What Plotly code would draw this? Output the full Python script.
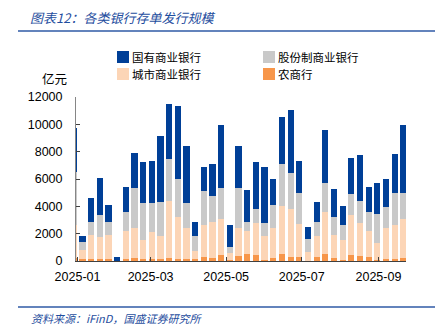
import plotly.graph_objects as go

# Weekly issuance dates (week ending Sunday)
weeks = [
    "2024-12-29", "2025-01-05", "2025-01-12", "2025-01-19", "2025-01-26",
    "2025-02-02", "2025-02-09", "2025-02-16", "2025-02-23", "2025-03-02",
    "2025-03-09", "2025-03-16", "2025-03-23", "2025-03-30", "2025-04-06",
    "2025-04-13", "2025-04-20", "2025-04-27", "2025-05-04", "2025-05-11",
    "2025-05-18", "2025-05-25", "2025-06-01", "2025-06-08", "2025-06-15",
    "2025-06-22", "2025-06-29", "2025-07-06", "2025-07-13", "2025-07-20",
    "2025-07-27", "2025-08-03", "2025-08-10", "2025-08-17", "2025-08-24",
    "2025-08-31", "2025-09-07", "2025-09-14", "2025-09-21",
]

# Issuance by bank type, 亿元
rural = [200, 120, 170, 170, 170, 0, 170, 220, 120, 170,
         170, 250, 170, 170, 120, 320, 250, 460, 50, 370,
         540, 460, 70, 250, 510, 320, 320, 30, 320, 510,
         250, 100, 440, 340, 320, 100, 170, 170, 250]
city = [2400, 690, 1740, 1620, 1740, 0, 2060, 2230, 1420, 1940,
        1670, 4160, 3070, 2280, 620, 2330, 2620, 2650, 560, 2080,
        1620, 2290, 1790, 2200, 3530, 3460, 2380, 660, 1520, 3070,
        1660, 1440, 2940, 2430, 1880, 1220, 2210, 2430, 2840]
joint_stock = [3900, 590, 910, 1590, 960, 0, 1350, 2870, 2680, 2150,
               2500, 3020, 2740, 1770, 1100, 2500, 1910, 2260, 440, 2870,
               660, 1030, 910, 1620, 3090, 2640, 2250, 950, 980, 2130,
               1300, 1060, 1550, 1590, 1380, 2110, 1590, 2400, 1910]
state_owned = [3200, 450, 1790, 2700, 1220, 290, 1860, 2600, 3060, 3040,
               4800, 4040, 5390, 4190, 980, 1760, 2350, 4560, 1550, 3080,
               2400, 3430, 4120, 1930, 3380, 4660, 2400, 880, 1490, 3870,
               2060, 1420, 2640, 3360, 1860, 2260, 2010, 2820, 4980]

series = [
    ("农商行", rural, "#F7964A"),
    ("城市商业银行", city, "#FCD5B6"),
    ("股份制商业银行", joint_stock, "#C9C9C9"),
    ("国有商业银行", state_owned, "#003F97"),
]

W, H = 441, 329
L, R, T, B = 76, 35, 97, 68
PW, PH = W - L - R, H - T - B


def px(x):
    return (x - L) / PW


def py(y):
    return (H - B - y) / PH


fig = go.Figure()
for name, vals, color in series:
    fig.add_trace(go.Bar(
        x=weeks, y=vals, name=name, showlegend=False,
        marker=dict(color=color, line=dict(width=0)),
    ))

cjk = "Noto Sans CJK SC"
blue = "#1F4E9E"
ann = []
shapes = []

# Title and framing rules
ann.append(dict(text="图表12：各类银行存单发行规模", x=px(28), y=py(17), xref="paper", yref="paper",
                xanchor="left", yanchor="middle", showarrow=False,
                font=dict(family=cjk, size=13, color=blue, style="italic")))
ann.append(dict(text="资料来源：iFinD，国盛证券研究所", x=px(29), y=py(318), xref="paper", yref="paper",
                xanchor="left", yanchor="middle", showarrow=False,
                font=dict(family=cjk, size=11, color=blue, style="italic")))
for yy in (31, 307):
    shapes.append(dict(type="line", xref="paper", yref="paper", x0=px(18), x1=px(435),
                       y0=py(yy), y1=py(yy), line=dict(color="#2F5AA6", width=1.5)))

# Unit label
ann.append(dict(text="亿元", x=px(54), y=py(79), xref="paper", yref="paper",
                xanchor="center", yanchor="middle", showarrow=False,
                font=dict(family=cjk, size=12.5, color="#000000")))

# Legend (2 x 2 grid)
legend_items = [
    ("国有商业银行", "#003F97", 117, 57),
    ("股份制商业银行", "#C9C9C9", 263, 57),
    ("城市商业银行", "#FCD5B6", 117, 74),
    ("农商行", "#F7964A", 263, 74),
]
for label, color, lx, ly in legend_items:
    shapes.append(dict(type="rect", xref="paper", yref="paper",
                       x0=px(lx), x1=px(lx + 12), y0=py(ly - 6), y1=py(ly + 6),
                       fillcolor=color, line=dict(width=0)))
    ann.append(dict(text=label, x=px(lx + 13), y=py(ly), xref="paper", yref="paper",
                    xanchor="left", yanchor="middle", showarrow=False,
                    font=dict(family=cjk, size=11.5, color="#000000")))

fig.update_layout(
    width=W, height=H,
    margin=dict(l=L, r=R, t=T, b=B, pad=0),
    barmode="stack", bargap=0.3,
    plot_bgcolor="white", paper_bgcolor="white",
    showlegend=False,
    annotations=ann, shapes=shapes,
    font=dict(family="Liberation Sans", size=12.5, color="#000000"),
)
fig.update_xaxes(
    type="date", range=["2024-12-30 18:00", "2025-09-23 06:00"],
    tick0="2025-01-01", dtick="M2", tickformat="%Y-%m",
    showgrid=False, zeroline=False,
    showline=True, linecolor="#404040", linewidth=1,
    ticks="inside", ticklen=4, tickcolor="#404040",
    ticklabelstandoff=4,
    tickfont=dict(family="Liberation Sans", size=12.5, color="#000000"),
)
fig.update_yaxes(
    range=[0, 12000], dtick=2000, tickformat="d",
    showgrid=False, zeroline=False,
    showline=True, linecolor="#868686", linewidth=1,
    ticks="inside", ticklen=4, tickcolor="#404040",
    ticklabelstandoff=10,
    tickfont=dict(family="Liberation Sans", size=12.5, color="#000000"),
)

fig.write_html("out.html")
